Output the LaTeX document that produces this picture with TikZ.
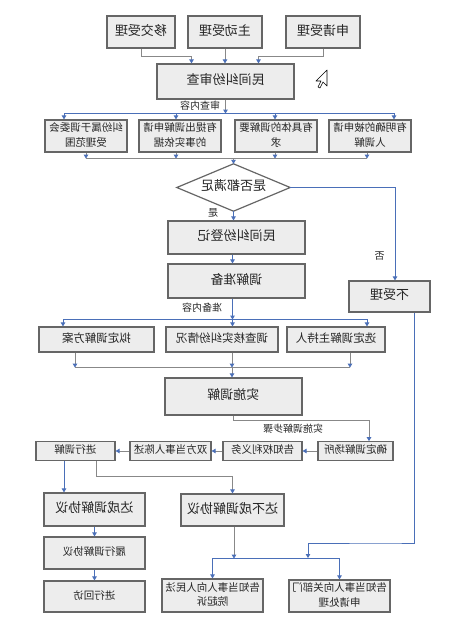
\documentclass[tikz,border=0pt]{standalone}
\usepackage{fontspec}
\usepackage{graphicx}
\newfontfamily\cjk{Noto Sans CJK SC}
\usetikzlibrary{arrows.meta,calc}
\definecolor{boxline}{HTML}{666666}
\definecolor{boxfill}{HTML}{EDEDED}
\definecolor{linegray}{HTML}{888888}
\definecolor{lineblue}{HTML}{4A6FB8}
\definecolor{textc}{HTML}{262626}
\newcommand{\mt}[1]{\reflectbox{\begin{tabular}{@{}c@{}}#1\end{tabular}}}
\begin{document}
\begin{tikzpicture}[x=1pt,y=-1pt,
  box/.style={draw=boxline, fill=boxfill, line width=1.2pt, inner sep=0pt, text=textc, font=\cjk\fontsize{13}{15}\selectfont},
  small/.style={box, font=\cjk\fontsize{10.5}{14.5}\selectfont},
  mid/.style={box, font=\cjk\fontsize{11.5}{14}\selectfont},
  lbl/.style={text=textc, font=\cjk\fontsize{10}{12}\selectfont, inner sep=0pt},
  conn/.style={draw=linegray, line width=0.9pt, -{Triangle[length=4pt,width=4.5pt,color=lineblue]}},
  bconn/.style={conn, draw=lineblue},
  wire/.style={draw=linegray, line width=0.9pt},
  bwire/.style={wire, draw=lineblue}]
\useasboundingbox[fill=white] (0,0) rectangle (448,633);

% top row
\node[box, minimum width=68pt, minimum height=32pt] (t1) at (141,32) {\mt{移交受理}};
\node[box, minimum width=74pt, minimum height=32pt] (t2) at (225,32) {\mt{主动受理}};
\node[box, minimum width=74pt, minimum height=32pt] (t3) at (323,32) {\mt{申请受理}};
\node[box, minimum width=137pt, minimum height=35pt] (sc) at (225.5,81.5) {\mt{民间纠纷审查}};

% four conditions
\node[small, minimum width=82pt, minimum height=32pt] (b1) at (86,136) {\mt{纠纷属于调委会\\受理范围}};
\node[small, minimum width=82pt, minimum height=32pt] (b2) at (180,136) {\mt{有提出调解申请\\的事实依据}};
\node[small, minimum width=82pt, minimum height=32pt] (b3) at (276,136) {\mt{有具体的调解要\\求}};
\node[small, minimum width=82pt, minimum height=32pt] (b4) at (370,136) {\mt{有明确的被申请\\人调解}};

% decision
\node[inner sep=0pt, minimum width=113pt, minimum height=47pt] (dm) at (233.5,187.5) {};
\draw[draw=boxline, fill=white, line width=1.2pt] (dm.north) -- (dm.east) -- (dm.south) -- (dm.west) -- cycle;
\node[inner sep=0pt, text=textc, font=\cjk\fontsize{13}{15}\selectfont] (dmt) at (dm.center) {\mt{是否都满足}};

\node[box, minimum width=137pt, minimum height=33pt] (dj) at (236.5,237.5) {\mt{民间纠纷登记}};
\node[box, minimum width=137pt, minimum height=34pt] (zb) at (236.5,281) {\mt{调解准备}};
\node[box, minimum width=81pt, minimum height=31pt] (bsl) at (389.5,296.5) {\mt{不受理}};

% preparation items
\node[mid, minimum width=115pt, minimum height=25pt] (c1) at (96.5,339.5) {\mt{拟定调解方案}};
\node[mid, minimum width=112pt, minimum height=25pt] (c2) at (222,339.5) {\mt{调查核实纠纷情况}};
\node[mid, minimum width=98pt, minimum height=25pt] (c3) at (336,339.5) {\mt{选定调解主持人}};

\node[box, minimum width=137pt, minimum height=37pt] (ss) at (233.5,396.5) {\mt{实施调解}};

% steps row
\node[small, minimum width=75pt, minimum height=18.5pt] (r1) at (355.5,451) {\mt{确定调解场所}};
\node[small, minimum width=79pt, minimum height=18.5pt] (r2) at (262.5,451) {\mt{告知权利义务}};
\node[small, minimum width=81pt, minimum height=18.5pt] (r3) at (170.5,451) {\mt{双方当事人陈述}};
\node[small, minimum width=79pt, minimum height=18.5pt] (r4) at (75.5,451) {\mt{进行调解}};

% outcomes
\node[box, minimum width=101pt, minimum height=33pt] (d1) at (94.5,509.5) {\mt{达成调解协议}};
\node[box, minimum width=103pt, minimum height=32pt] (d2) at (232.5,510) {\mt{达不成调解协议}};
\node[small, minimum width=101pt, minimum height=32pt] (l1) at (94.5,553) {\mt{履行调解协议}};
\node[small, minimum width=101pt, minimum height=31pt] (l2) at (94.5,596.5) {\mt{进行回访}};
\node[small, minimum width=101pt, minimum height=33pt] (g1) at (212.5,595.5) {\mt{告知当事人向人民法\\院起诉}};
\node[small, minimum width=101pt, minimum height=32pt] (g2) at (339.5,596) {\mt{告知当事人向关部门\\申请处理}};

% connectors: top
\draw[conn] (t1.south) -- ++(0,8) -| ([xshift=-34pt]sc.north);
\draw[conn] (t2.south) -- (t2.south |- sc.north);
\draw[conn] (t3.south) -- ++(0,8) -| ([xshift=33pt]sc.north);

% review bus
\draw[conn] (sc.south) -- node[lbl, left=5pt] {\mt{审查内容}} ++(0,14) coordinate (bus1);
\draw[bconn] (bus1) -| ([xshift=-22pt]b1.north);
\draw[bconn] (bus1) -| ([xshift=-4pt]b2.north);
\draw[bconn] (bus1) -| ([xshift=-1pt]b3.north);
\draw[bconn] (bus1) -| ([xshift=24pt]b4.north);

\draw[conn] (b1.south) -- ++(0,6) coordinate (bb1);
\draw[conn] ([xshift=-4pt]b2.south) -- ++(0,6);
\draw[conn] ([xshift=-1pt]b3.south) -- ++(0,6);
\draw[conn] ([xshift=-3pt]b4.south) -- ++(0,6) coordinate (bb4);
\draw[wire] (bb1) -- (bb4);
\draw[conn] (dm.north |- bb1) -- (dm.north);

% decision branches
\draw[bconn] (dm.south) -- node[lbl, pos=0.3, left=15pt] {\mt{是}} (dm.south |- dj.north);
\draw[bconn] (dm.east) -| node[lbl, pos=0.875, left=10pt] {\mt{否}} ([xshift=5.5pt]bsl.north);
\draw[bconn] ([xshift=-4pt]dj.south) -- ([xshift=-4pt]zb.north);

% preparation bus
\draw[bconn] ([xshift=-4pt]zb.south) -- node[lbl, left=10pt] {\mt{准备内容}} ++(0,21) coordinate (bus2);
\draw[bconn] (bus2) -| ([xshift=-33.5pt]c1.north);
\draw[bconn] (bus2) -- (bus2 |- c2.north);
\draw[bconn] (bus2) -| ([xshift=31pt]c3.north);

\draw[conn] ([xshift=-21.5pt]c1.south) -- ++(0,15) coordinate (cc1);
\draw[conn] ([xshift=10pt]c2.south) -- ++(0,15) coordinate (cc2);
\draw[conn] ([xshift=14pt]c3.south) -- ++(0,15) coordinate (cc3);
\draw[wire] (cc1) -- (cc3);
\draw[conn] (cc2) -- (cc2 |- ss.north);

% steps
\draw[conn] (ss.south) -- ++(0,5) -| node[lbl, pos=0.22, below=3pt] {\mt{实施调解步骤}} ([xshift=13.5pt]r1.north);
\draw[conn] (r1.west) -- (r2.east);
\draw[conn] (r2.west) -- (r3.east);
\draw[conn] (r3.west) -- (r4.east);

% outcomes
\draw[bconn] ([xshift=-11.5pt]r4.south) -- ([xshift=-11.5pt]r4.south |- d1.north);
\draw[conn] ([xshift=20.5pt]r4.south) -- ++(0,16) -| (d2.north);
\draw[bconn] (d1.south) -- (l1.north);
\draw[bconn] (l1.south) -- (l2.north);

\draw[conn] ([xshift=1.5pt]d2.south) -- ++(0,32) coordinate (bus3);
\draw[bconn] (bus3) -| (g1.north);
\draw[bconn] (bus3) -| (g2.north);
\coordinate (jn) at (308,558);
\draw[bconn] ([xshift=24.5pt]bsl.south) |- (bsl.south |- 0,543) -| (jn);

% mouse cursor
\draw[fill=white, draw=black, line width=0.6pt, line join=round] (327,70) -- ++(0,16) -- ++(-4,-4) -- ++(-3,6) -- ++(-2,-1) -- ++(3,-6) -- ++(-5,0) -- cycle;
\end{tikzpicture}
\end{document}
